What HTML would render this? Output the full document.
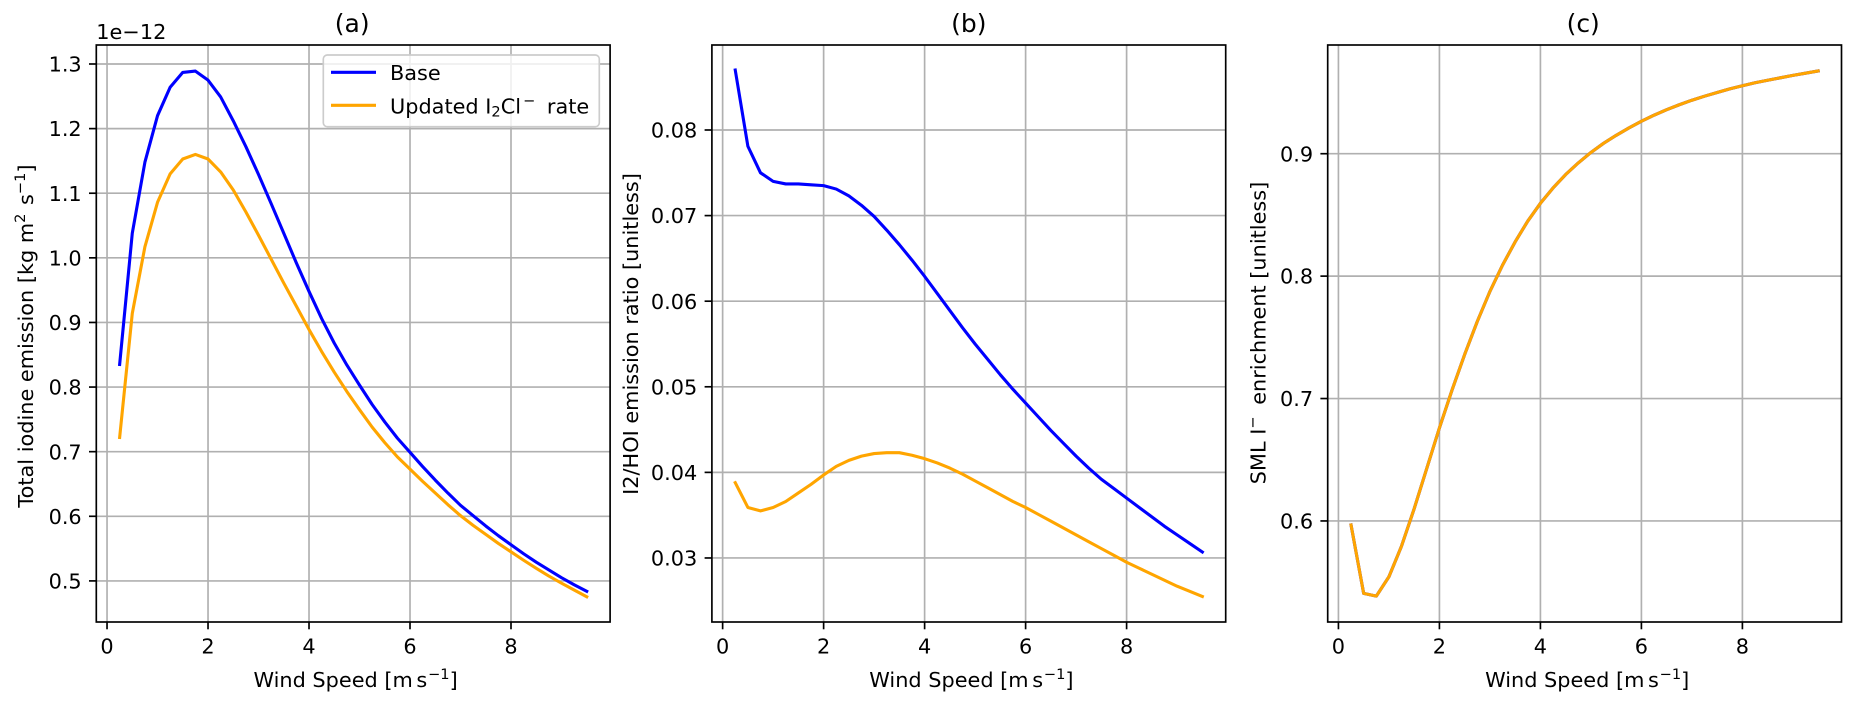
<!DOCTYPE html>
<html lang="en">
<head>
<meta charset="utf-8">
<title>Iodine emission vs wind speed</title>
<style>
html,body{margin:0;padding:0;background:#fff;}
body{width:1857px;height:707px;overflow:hidden;}
svg{display:block;}
text{font-family:"DejaVu Sans","Liberation Sans",sans-serif;fill:#000;}
</style>
</head>
<body>
<svg id="figure" xmlns="http://www.w3.org/2000/svg" width="1857" height="707" viewBox="0 0 1857 707">
  <rect x="0" y="0" width="1857" height="707" fill="#fff"/>
  <g id="plots"></g>

  <text x="352.2" y="32" font-size="25" text-anchor="middle">(a)</text>
  <text x="968.8" y="32" font-size="25" text-anchor="middle">(b)</text>
  <text x="1583.2" y="32" font-size="25" text-anchor="middle">(c)</text>

  <text x="96.3" y="39" font-size="20.83">1e−12</text>

  <text x="355.6" y="687" font-size="20.83" text-anchor="middle">Wind Speed [m<tspan dx="3"> </tspan><tspan dx="-6">s</tspan><tspan dy="-8" font-size="14.6" dx="0.8">−1</tspan><tspan dy="8">]</tspan></text>
  <text x="971.4" y="687" font-size="20.83" text-anchor="middle">Wind Speed [m<tspan dx="3"> </tspan><tspan dx="-6">s</tspan><tspan dy="-8" font-size="14.6" dx="0.8">−1</tspan><tspan dy="8">]</tspan></text>
  <text x="1587.2" y="687" font-size="20.83" text-anchor="middle">Wind Speed [m<tspan dx="3"> </tspan><tspan dx="-6">s</tspan><tspan dy="-8" font-size="14.6" dx="0.8">−1</tspan><tspan dy="8">]</tspan></text>

  <text transform="translate(32.8,336) rotate(-90)" font-size="20.83" text-anchor="middle">Total iodine emission [kg m<tspan dy="-8" font-size="14.6">2</tspan><tspan dy="8" dx="2"> s</tspan><tspan dy="-8" font-size="14.6">−1</tspan><tspan dy="8">]</tspan></text>
  <text transform="translate(638.2,334) rotate(-90)" font-size="20.83" text-anchor="middle">I2/HOI emission ratio [unitless]</text>
  <text transform="translate(1265.5,333) rotate(-90)" font-size="20.83" text-anchor="middle">SML I<tspan dy="-8" font-size="14.6">−</tspan><tspan dy="8" dx="5"> enrichment [unitless]</tspan></text>

  <g>
    <rect x="323.3" y="55" width="276" height="71.7" rx="4" ry="4" fill="#fff" fill-opacity="0.8" stroke="#ccc" stroke-width="1.67"/>
    <line x1="331" y1="72.3" x2="376" y2="72.3" stroke="#0000ff" stroke-width="3.1"/>
    <text x="390" y="80" font-size="20.83">Base</text>
    <line x1="331" y1="105.3" x2="376" y2="105.3" stroke="#ffa500" stroke-width="3.1"/>
    <text x="390" y="113.3" font-size="20.83">Updated I<tspan dy="3" font-size="14.6">2</tspan><tspan dy="-3">Cl</tspan><tspan dy="-8" font-size="14.6" dx="2">−</tspan><tspan dy="8" dx="5"> rate</tspan></text>
  </g>
</svg>

<script>
const windSpeed = [0.25,0.5,0.75,1,1.25,1.5,1.75,2,2.25,2.5,2.75,3,3.25,3.5,3.75,4,4.25,4.5,4.75,5,5.25,5.5,5.75,6,6.25,6.5,6.75,7,7.25,7.5,7.75,8,8.25,8.5,8.75,9,9.25,9.5];

const baseEmission = [0.835,1.038,1.148,1.220,1.264,1.287,1.289,1.275,1.249,1.212,1.172,1.129,1.084,1.038,0.992,0.948,0.906,0.868,0.834,0.803,0.773,0.746,0.721,0.699,0.677,0.656,0.636,0.617,0.601,0.585,0.570,0.556,0.542,0.529,0.517,0.505,0.494,0.484];
const updatedEmission = [0.722,0.914,1.017,1.086,1.130,1.153,1.160,1.153,1.133,1.105,1.071,1.035,0.998,0.961,0.925,0.889,0.855,0.823,0.793,0.765,0.738,0.714,0.692,0.673,0.654,0.636,0.618,0.601,0.586,0.572,0.558,0.545,0.532,0.5195,0.5075,0.4965,0.486,0.4755];

const baseRatio = [0.0870,0.0781,0.0750,0.0740,0.0737,0.0737,0.0736,0.0735,0.0731,0.0723,0.0712,0.0699,0.0683,0.0666,0.0648,0.0629,0.0609,0.0589,0.0569,0.0550,0.0532,0.0514,0.0497,0.0481,0.0465,0.0449,0.0434,0.0419,0.0405,0.0392,0.0381,0.0370,0.0359,0.0348,0.0337,0.0327,0.0317,0.0307];
const updatedRatio = [0.0388,0.0359,0.0355,0.0359,0.0366,0.0376,0.0386,0.0397,0.0407,0.0414,0.0419,0.0422,0.0423,0.0423,0.0420,0.0416,0.0411,0.0405,0.0398,0.0390,0.0382,0.0374,0.0366,0.0359,0.0351,0.0343,0.0335,0.0327,0.0319,0.0311,0.0303,0.0295,0.0288,0.0281,0.0274,0.0267,0.0261,0.0255];

const baseEnrichment = [0.5967,0.5408,0.5386,0.5544,0.5795,0.610,0.643,0.676,0.707,0.736,0.763,0.7875,0.809,0.828,0.845,0.8595,0.872,0.883,0.8925,0.901,0.9085,0.915,0.921,0.9265,0.9315,0.936,0.940,0.9437,0.947,0.950,0.953,0.9555,0.958,0.960,0.962,0.964,0.9658,0.9676];
const updatedEnrichment = [0.5967,0.5408,0.5386,0.5544,0.5795,0.610,0.643,0.676,0.707,0.736,0.763,0.7875,0.809,0.828,0.845,0.8595,0.872,0.883,0.8925,0.901,0.9085,0.915,0.921,0.9265,0.9315,0.936,0.940,0.9437,0.947,0.950,0.953,0.9555,0.958,0.960,0.962,0.964,0.9658,0.9676];

const xTicks = [0,2,4,6,8];
const yTicksA = [0.5,0.6,0.7,0.8,0.9,1.0,1.1,1.2,1.3];
const yTicksB = [0.03,0.04,0.05,0.06,0.07,0.08];
const yTicksC = [0.6,0.7,0.8,0.9];

const seriesColors = {base:'#0000ff', updated:'#ffa500'};
const xDomain = [-0.2125, 9.9625];
const plotTop = 45;
const plotBottom = 622;

const panels = [
  {id:'panel-a', left:96.3, right:610.1, yDomain:[0.4364,1.3294], yTicks:yTicksA, decimals:1, base:baseEmission, updated:updatedEmission},
  {id:'panel-b', left:711.9, right:1225.7, yDomain:[0.02252,0.08993], yTicks:yTicksB, decimals:2, base:baseRatio, updated:updatedRatio},
  {id:'panel-c', left:1327.7, right:1841.5, yDomain:[0.51745,0.98881], yTicks:yTicksC, decimals:1, base:baseEnrichment, updated:updatedEnrichment}
];

const SVG_NS = 'http://www.w3.org/2000/svg';
const plotsRoot = document.getElementById('plots');

function make(tag, attrs, parent) {
  const node = document.createElementNS(SVG_NS, tag);
  for (const key in attrs) node.setAttribute(key, attrs[key]);
  parent.appendChild(node);
  return node;
}

function linearScale(domain, range) {
  return function (v) {
    return range[0] + (v - domain[0]) / (domain[1] - domain[0]) * (range[1] - range[0]);
  };
}

function drawPanel(p) {
  const x = linearScale(xDomain, [p.left, p.right]);
  const y = linearScale(p.yDomain, [plotBottom, plotTop]);

  const group = make('g', {}, plotsRoot);
  
  

  const background = make('rect', {x:p.left, y:plotTop, width:p.right - p.left, height:plotBottom - plotTop, fill:'#fff'}, group);
  
  

  xTicks.forEach(function (t) {
    const grid = make('line', {x1:x(t), x2:x(t), y1:plotTop, y2:plotBottom, stroke:'#b0b0b0', 'stroke-width':1.67}, group);
    
    
  });
  p.yTicks.forEach(function (t) {
    const grid = make('line', {x1:p.left, x2:p.right, y1:y(t), y2:y(t), stroke:'#b0b0b0', 'stroke-width':1.67}, group);
    
    
  });

  ['base', 'updated'].forEach(function (key) {
    const pts = windSpeed.map(function (w, i) {
      return x(w).toFixed(2) + ',' + y(p[key][i]).toFixed(2);
    }).join(' ');
    const line = make('polyline', {points:pts, fill:'none', stroke:seriesColors[key], 'stroke-width':3.1, 'stroke-linejoin':'round', 'stroke-linecap':'square'}, group);
    
    
  });

  xTicks.forEach(function (t) {
    const mark = make('line', {x1:x(t), x2:x(t), y1:plotBottom, y2:plotBottom + 7.3, stroke:'#000', 'stroke-width':1.67}, group);
    
    
    const label = make('text', {x:x(t), y:653.5, 'font-size':20.83, 'text-anchor':'middle'}, group);
    label.textContent = String(t);
    
    
  });
  p.yTicks.forEach(function (t) {
    const mark = make('line', {x1:p.left - 7.3, x2:p.left, y1:y(t), y2:y(t), stroke:'#000', 'stroke-width':1.67}, group);
    
    
    const label = make('text', {x:p.left - 14.6, y:y(t) + 7.6, 'font-size':20.83, 'text-anchor':'end'}, group);
    label.textContent = t.toFixed(p.decimals);
    
    
  });

  const frame = make('rect', {x:p.left, y:plotTop, width:p.right - p.left, height:plotBottom - plotTop, fill:'none', stroke:'#000', 'stroke-width':1.67}, group);
  
  
}

panels.forEach(drawPanel);
</script>
</body>
</html>
